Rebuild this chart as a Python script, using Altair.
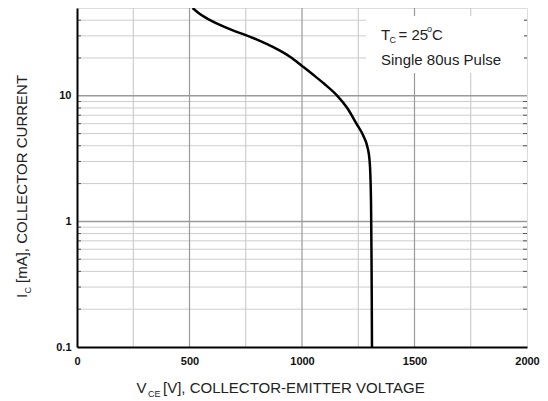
import altair as alt
import pandas as pd

# ---- data ----
vce_volts = [514, 540, 570, 600, 640, 690, 750, 800, 850, 900, 950, 1000, 1050, 1100,
             1157, 1201, 1242, 1275, 1291, 1300, 1304, 1307, 1309, 1310, 1311]
ic_ma = [50, 45.7, 42.1, 39.3, 36.3, 33.3, 30.4, 28.0, 25.5, 23.0, 20.3, 17.3, 14.7, 12.4,
         10, 8, 6, 4.7, 3.9, 3.1, 2.3, 1.3, 0.5, 0.25, 0.1]

x_ticks = [0, 500, 1000, 1500, 2000]
x_grid_minor = [250, 750, 1250, 1750]
x_grid_major = [500, 1000, 1500]
y_ticks = [0.1, 1, 10]
y_grid_minor = [0.2, 0.3, 0.4, 0.5, 0.6, 0.7, 0.8, 0.9,
                2, 3, 4, 5, 6, 7, 8, 9, 20, 30, 40]
y_grid_major = [1, 10]

FONT = "Liberation Sans"
W, H = 450, 339

curve_df = pd.DataFrame({"vce": vce_volts, "ic": ic_ma})
xs = alt.Scale(domain=[0, 2000], nice=False, zero=False)
ys = alt.Scale(type="log", domain=[0.1, 50], nice=False)

X_AX = alt.Axis(values=x_ticks, grid=False, ticks=False, domainColor="black",
                domainWidth=2, labelFont=FONT, labelFontSize=11,
                labelFontWeight="bold", labelColor="#111", format="d",
                labelPadding=8, zindex=1, labelFlush=False, title=None)
Y_AX = alt.Axis(values=y_ticks, grid=False, ticks=False, domainColor="black",
                domainWidth=2, labelFont=FONT, labelFontSize=11,
                labelFontWeight="bold", labelColor="#111",
                labelPadding=6, zindex=1, format="~g", labelFlush=False, title=None)

one = alt.Data(values=[{"a": 1}])

vminor = alt.Chart(pd.DataFrame({"v": x_grid_minor})).mark_rule(
    color="#c4c4c4", strokeWidth=1).encode(x=alt.X("v:Q", scale=xs, axis=X_AX))
vmajor = alt.Chart(pd.DataFrame({"v": x_grid_major})).mark_rule(
    color="#9a9a9a", strokeWidth=1.2).encode(x=alt.X("v:Q", scale=xs, axis=X_AX))
hminor = alt.Chart(pd.DataFrame({"v": y_grid_minor})).mark_rule(
    color="#cdcdcd", strokeWidth=1).encode(y=alt.Y("v:Q", scale=ys, axis=Y_AX))
hmajor = alt.Chart(pd.DataFrame({"v": y_grid_major})).mark_rule(
    color="#9a9a9a", strokeWidth=1.5).encode(y=alt.Y("v:Q", scale=ys, axis=Y_AX))

ticks_df = pd.DataFrame({"v": y_grid_minor})
lticks = alt.Chart(ticks_df).mark_rule(color="#555", strokeWidth=1).encode(
    y=alt.Y("v:Q", scale=ys, axis=Y_AX), x=alt.value(0), x2=alt.value(4))
rticks = alt.Chart(ticks_df).mark_rule(color="#555", strokeWidth=1).encode(
    y=alt.Y("v:Q", scale=ys, axis=Y_AX), x=alt.value(W - 4), x2=alt.value(W))

box = alt.Chart(one).mark_rect(fill="white").encode(
    x=alt.value(289), x2=alt.value(447), y=alt.value(8), y2=alt.value(65))

curve = alt.Chart(curve_df).mark_line(
    color="black", strokeWidth=2.5, interpolate="monotone", clip=True
).encode(
    x=alt.X("vce:Q", scale=xs, axis=X_AX),
    y=alt.Y("ic:Q", scale=ys, axis=Y_AX),
)


def txt(s, x, y, size=15, angle=0):
    props = dict(text=s, font=FONT, fontSize=size, color="#222",
                 align="left", baseline="alphabetic")
    if angle:
        props["angle"] = angle
    return alt.Chart(one).mark_text(**props).encode(x=alt.value(x), y=alt.value(y))


texts = [
    # annotation box
    txt("T", 304, 31.5),
    txt("C", 312.5, 34.5, size=9),
    txt("= 25", 321.5, 31.5),
    txt("o", 350, 24, size=9),
    txt("C", 355, 31.5),
    txt("Single 80us Pulse", 304, 56.5),
    # x title
    txt("V", 59.5, 385),
    txt("CE", 71, 388.5, size=9),
    txt("[V], COLLECTOR-EMITTER VOLTAGE", 86, 385),
    # y title
    txt("I", -50, 290, angle=270),
    txt("C", -46.5, 285.5, size=9, angle=270),
    txt("[mA], COLLECTOR CURRENT", -50, 275, angle=270),
]

chart = alt.layer(
    vminor, hminor, vmajor, hmajor, lticks, rticks, box, curve, *texts
).properties(
    width=W, height=H,
    autosize=alt.AutoSizeParams(type="none"),
    padding={"left": 69, "top": 0, "right": 13, "bottom": 54},
).configure_view(
    stroke="#111", strokeWidth=1.5
).configure(background="white")

chart.save("out.html", embed_options={"renderer": "svg", "actions": False})
